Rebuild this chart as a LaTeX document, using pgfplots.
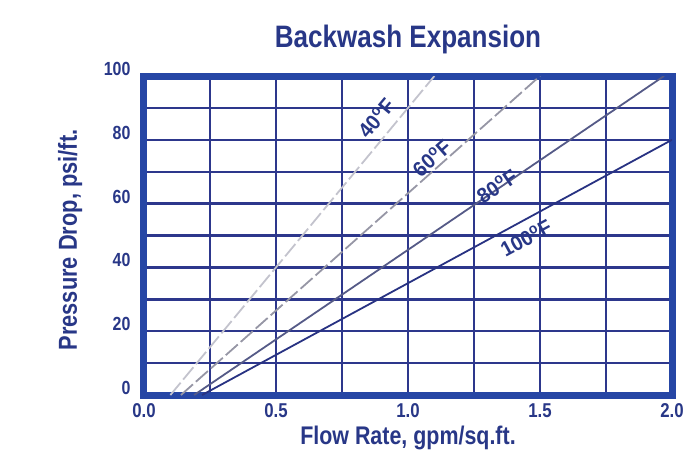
\documentclass[border=0pt]{standalone}
\usepackage{fontspec}
\setmainfont{Liberation Sans}[FakeStretch=0.84]
\newfontfamily\widefont{Liberation Sans}[FakeStretch=0.95]
\usepackage{pgfplots}
\pgfplotsset{compat=1.18}
\definecolor{frameblue}{RGB}{38,70,165}
\definecolor{gridblue}{RGB}{45,55,140}
\definecolor{txtblue}{RGB}{40,55,135}
\definecolor{c40}{RGB}{195,195,205}
\definecolor{c60}{RGB}{150,150,165}
\definecolor{c80}{RGB}{85,90,135}
\definecolor{c100}{RGB}{40,50,130}
\newcommand{\dg}{\textsuperscript{o}}
\begin{document}
\begin{tikzpicture}
\useasboundingbox (-144pt,-66pt) rectangle (551pt,395pt);
\begin{axis}[
  at={(0,0)}, anchor=south west,
  scale only axis, width=528pt, height=319pt,
  xmin=0, xmax=2, ymin=0, ymax=100,
  xtick={0,0.5,1,1.5,2}, minor xtick={0.25,0.75,1.25,1.75},
  ytick={0,20,...,100}, minor ytick={10,30,50,70,90},
  grid=both,
  major grid style={gridblue, line width=2.4pt},
  minor grid style={gridblue, line width=2.4pt},
  axis line style={frameblue, line width=7pt},
  tick style={draw=none},
  /pgf/number format/assume math mode=true,
  xticklabel style={font=\bfseries\fontsize{20}{20}\selectfont, text=txtblue, yshift=-5pt,
    /pgf/number format/.cd, fixed, fixed zerofill, precision=1},
  yticklabel style={font=\bfseries\fontsize{19}{19}\selectfont, text=txtblue, xshift=-10pt, yshift=7pt},
  xlabel={Flow Rate, gpm/sq.ft.},
  ylabel={Pressure Drop, psi/ft.},
  xlabel style={font=\bfseries\fontsize{25.5}{25.5}\selectfont, text=txtblue,
    at={(axis description cs:0.5,0)}, anchor=center, yshift=-43pt},
  ylabel style={font=\bfseries\fontsize{26}{26}\selectfont, text=txtblue,
    at={(axis description cs:-0.140,0.486)}, anchor=center},
  title={Backwash Expansion},
  title style={font=\bfseries\fontsize{31}{31}\selectfont, text=txtblue,
    at={(axis description cs:0.5,1)}, anchor=base, yshift=22pt},
]
\addplot[c40, line width=1.8pt, dash pattern=on 16pt off 4pt] coordinates {(0.10,0) (1.10,100)};
\addplot[c60, line width=1.8pt, dash pattern=on 16pt off 4pt] coordinates {(0.14,0) (1.50,100)};
\addplot[c80, line width=1.8pt] coordinates {(0.19,0) (1.97,100)};
\addplot[c100, line width=1.8pt] coordinates {(0.22,0) (2.0,80)};
\node[rotate=50, text=txtblue, font=\widefont\bfseries\fontsize{21}{21}\selectfont] at (axis cs:0.879,86.8) {40\dg F};
\node[rotate=41.6, text=txtblue, font=\widefont\bfseries\fontsize{21}{21}\selectfont] at (axis cs:1.09,74.3) {60\dg F};
\node[rotate=34, text=txtblue, font=\widefont\bfseries\fontsize{21}{21}\selectfont] at (axis cs:1.337,65.5) {80\dg F};
\node[rotate=28.5, text=txtblue, font=\widefont\bfseries\fontsize{21}{21}\selectfont] at (axis cs:1.447,49.2) {100\dg F};
\end{axis}
\end{tikzpicture}
\end{document}
